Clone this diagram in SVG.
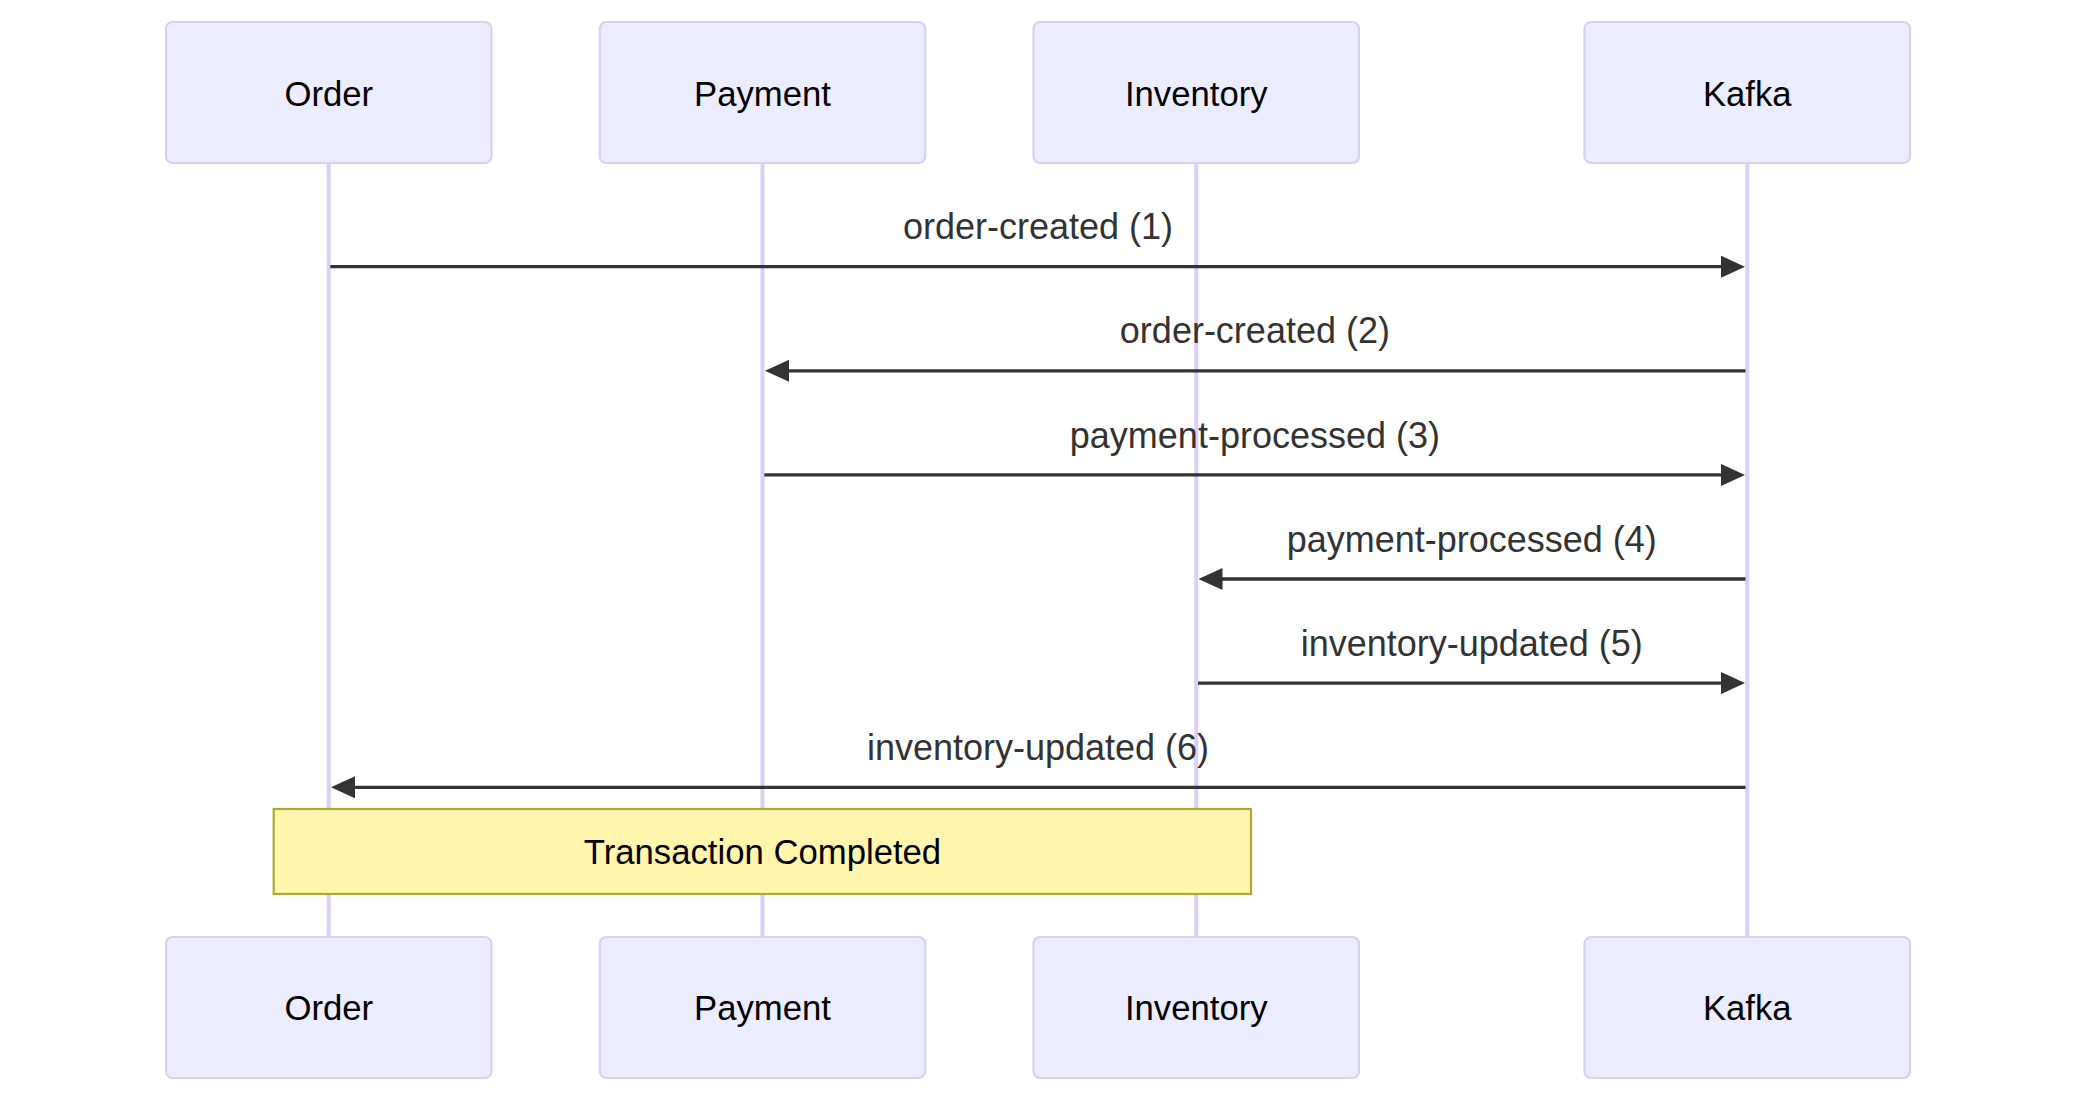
<svg xmlns="http://www.w3.org/2000/svg" width="2076" height="1102" viewBox="0 0 2076 1102">
<style>
.actor{fill:#ECECFF;stroke:#DACEF3;stroke-width:2.2}
.atext{font-family:"Liberation Sans",Arial,sans-serif;font-size:34.7px;fill:#000;text-anchor:middle}
.life{stroke:#DAD0F5;stroke-width:4}
.msg{stroke:#333;stroke-width:3.3;fill:none;marker-end:url(#arrow)}
.mtext{font-family:"Liberation Sans",Arial,sans-serif;font-size:36px;fill:#333;text-anchor:middle}
.note{fill:#FFF5AD;stroke:#AAAA33;stroke-width:2.2}
.ntext{font-family:"Liberation Sans",Arial,sans-serif;font-size:34.7px;fill:#000;text-anchor:middle}
</style>
<defs>
<marker id="arrow" viewBox="0 0 24 22" refX="20" refY="11" markerWidth="24" markerHeight="22" markerUnits="userSpaceOnUse" orient="auto">
<path d="M0,0 L24,11 L0,22 z" fill="#333"/>
</marker>
</defs>
<rect width="2076" height="1102" fill="#fff"/>
<g id="lifelines">
<line class="life" x1="328.75" y1="163" x2="328.75" y2="937"/>
<line class="life" x1="762.5" y1="163" x2="762.5" y2="937"/>
<line class="life" x1="1196.25" y1="163" x2="1196.25" y2="937"/>
<line class="life" x1="1747.25" y1="163" x2="1747.25" y2="937"/>
</g>
<g id="actor-order-top"><rect class="actor" x="166" y="22" width="325.5" height="141" rx="6.5"/><text class="atext" x="328.75" y="105.5">Order</text></g>
<g id="actor-payment-top"><rect class="actor" x="599.75" y="22" width="325.5" height="141" rx="6.5"/><text class="atext" x="762.5" y="105.5">Payment</text></g>
<g id="actor-inventory-top"><rect class="actor" x="1033.5" y="22" width="325.5" height="141" rx="6.5"/><text class="atext" x="1196.25" y="105.5">Inventory</text></g>
<g id="actor-kafka-top"><rect class="actor" x="1584.5" y="22" width="325.5" height="141" rx="6.5"/><text class="atext" x="1747.25" y="105.5">Kafka</text></g>
<g id="connectors">
<line class="msg" x1="330.3" y1="266.7" x2="1741" y2="266.7"/>
<text class="mtext" x="1038" y="239.3">order-created (1)</text>
<line class="msg" x1="1745.5" y1="370.8" x2="769" y2="370.8"/>
<text class="mtext" x="1254.9" y="343.4">order-created (2)</text>
<line class="msg" x1="764.3" y1="474.9" x2="1741" y2="474.9"/>
<text class="mtext" x="1254.9" y="447.5">payment-processed (3)</text>
<line class="msg" x1="1745.5" y1="579" x2="1202.5" y2="579"/>
<text class="mtext" x="1471.75" y="551.6">payment-processed (4)</text>
<line class="msg" x1="1198" y1="683.1" x2="1741" y2="683.1"/>
<text class="mtext" x="1471.75" y="655.7">inventory-updated (5)</text>
<line class="msg" x1="1745.5" y1="787.3" x2="335" y2="787.3"/>
<text class="mtext" x="1038" y="759.9">inventory-updated (6)</text>
</g>
<g id="note-transaction"><rect class="note" x="273.7" y="809" width="977.3" height="85"/><text class="ntext" x="762.5" y="864">Transaction Completed</text></g>
<g id="actor-order-bottom"><rect class="actor" x="166" y="937" width="325.5" height="141" rx="6.5"/><text class="atext" x="328.75" y="1020">Order</text></g>
<g id="actor-payment-bottom"><rect class="actor" x="599.75" y="937" width="325.5" height="141" rx="6.5"/><text class="atext" x="762.5" y="1020">Payment</text></g>
<g id="actor-inventory-bottom"><rect class="actor" x="1033.5" y="937" width="325.5" height="141" rx="6.5"/><text class="atext" x="1196.25" y="1020">Inventory</text></g>
<g id="actor-kafka-bottom"><rect class="actor" x="1584.5" y="937" width="325.5" height="141" rx="6.5"/><text class="atext" x="1747.25" y="1020">Kafka</text></g>
</svg>
